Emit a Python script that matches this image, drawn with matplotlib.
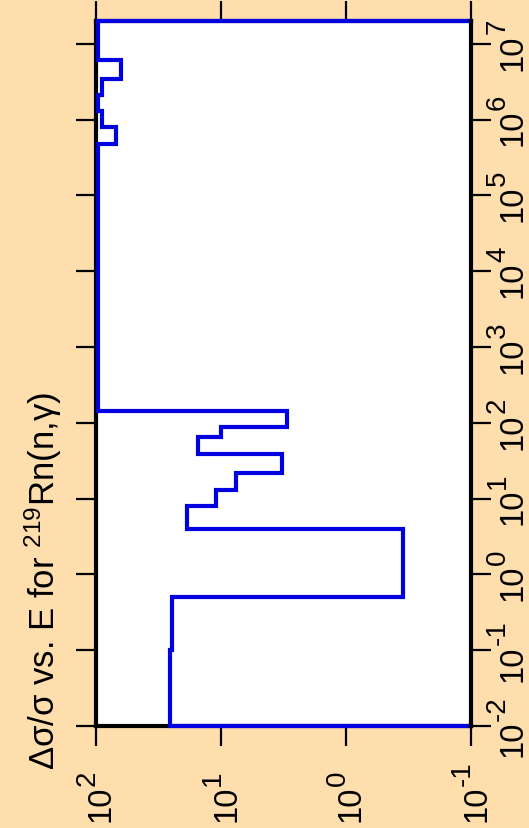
import numpy as np
import matplotlib
matplotlib.use("Agg")
import matplotlib.pyplot as plt
from matplotlib.ticker import FixedLocator, NullLocator, NullFormatter
from matplotlib.font_manager import FontProperties
from matplotlib.textpath import text_to_path

plt.rcParams['font.family'] = ['Liberation Sans', 'DejaVu Sans']
plt.rcParams['mathtext.fontset'] = 'custom'
plt.rcParams['mathtext.rm'] = 'Liberation Sans'
plt.rcParams['mathtext.it'] = 'Liberation Sans'
plt.rcParams['mathtext.default'] = 'regular'

# group boundaries (eV) and relative uncertainty per group
energy_edges = [1e-2, 0.1, 0.5, 4, 8, 13, 22, 39, 65, 89, 145,
                4.8e5, 8.1e5, 1.3e6, 2.1e6, 3.4e6, 6.1e6, 2e7]
rel_unc = [25.6, 24.8, 0.35, 18.7, 11.0, 7.6, 3.27, 15.4, 10.0, 2.96, 97,
           69, 90, 96, 89, 63, 97]

e_ticks = [1e-2, 1e-1, 1e0, 1e1, 1e2, 1e3, 1e4, 1e5, 1e6, 1e7]
e_exps = ['-2', '-1', '0', '1', '2', '3', '4', '5', '6', '7']
u_ticks = [1e2, 1e1, 1e0, 1e-1]
u_exps = ['2', '1', '0', '-1']

bg = '#ffdead'
DPI = 100
BASE = 23.5   # pt, "10"
SUP = 20      # pt, exponent

fig = plt.figure(figsize=(5.29, 8.29), dpi=DPI, facecolor=bg)
ax = fig.add_axes([96 / 529, 1 - 727 / 829, 375 / 529, 705 / 829])
ax.set_facecolor('white')

# step outline closed down to the 0.1 baseline at both ends
xs = np.concatenate([[0.1], np.repeat(rel_unc, 2), [0.1]])
ys = np.repeat(energy_edges, 2)
ax.plot(xs, ys, color='#0000e0', linewidth=3, clip_on=False, zorder=3,
        solid_joinstyle='miter')

ax.set_xscale('log')
ax.set_yscale('log')
ax.set_xlim(1e2, 1e-1)
ax.set_ylim(1e-2, 2e7)

ax.xaxis.set_major_locator(FixedLocator(u_ticks))
ax.xaxis.set_minor_locator(NullLocator())
ax.yaxis.set_major_locator(FixedLocator(e_ticks))
ax.yaxis.set_minor_locator(NullLocator())
ax.xaxis.set_major_formatter(NullFormatter())
ax.yaxis.set_major_formatter(NullFormatter())

ax.tick_params(axis='both', which='major', direction='out', length=14.5,
               width=1.6, color='black')
ax.tick_params(axis='x', top=True, bottom=True)
ax.tick_params(axis='y', left=True, right=True)

for s in ax.spines.values():
    s.set_linewidth(3)
    s.set_color('black')
ax.spines['right'].set_zorder(4)


def adv(s, size):
    w, h, d = text_to_path.get_text_width_height_descent(
        s, FontProperties(family='Liberation Sans', size=size), ismath=False)
    return w * DPI / 72.0


rot = dict(rotation=90, rotation_mode='anchor', ha='left', va='baseline',
           textcoords='offset pixels', annotation_clip=False)

# bottom labels (Δσ/σ), start-aligned below the axis
xtr = ax.get_xaxis_transform()
for v, e in zip(u_ticks, u_exps):
    w10 = adv('10', BASE)
    ax.annotate('10', xy=(v, 0), xycoords=xtr, xytext=(14, -95),
                fontsize=BASE, **rot)
    ax.annotate(e, xy=(v, 0), xycoords=xtr, xytext=(-1, -95 + w10),
                fontsize=SUP, **rot)

# right labels (energy), centred on the ticks
ytr = ax.get_yaxis_transform()
for v, e in zip(e_ticks, e_exps):
    w10 = adv('10', BASE)
    we = adv(e, SUP)
    start = -(w10 + we) / 2
    ax.annotate('10', xy=(1, v), xycoords=ytr, xytext=(50, start),
                fontsize=BASE, **rot)
    ax.annotate(e, xy=(1, v), xycoords=ytr, xytext=(34, start + w10),
                fontsize=SUP, **rot)

fig.text(43 / 529, 1 - 770 / 829,
         '\u0394\u03c3/\u03c3 vs. E for $^{219}$Rn(n,\u03b3)',
         rotation=90, ha='center', va='bottom', fontsize=25)

fig.savefig('out.png', dpi=DPI, facecolor=bg)
